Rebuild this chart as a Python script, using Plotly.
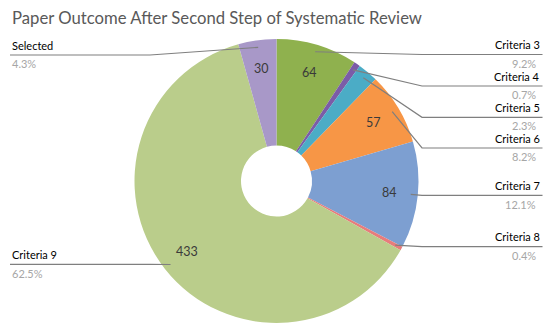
import math
import plotly.graph_objects as go

# ---- data ----
categories = ["Criteria 3", "Criteria 4", "Criteria 5", "Criteria 6",
              "Criteria 7", "Criteria 8", "Criteria 9", "Selected"]
values = [64, 5, 16, 57, 84, 3, 433, 30]
show_value = [True, False, False, True, True, False, True, True]
colors = ["#8fb14e", "#7b5ca7", "#4bacc6", "#f79646",
          "#7d9fd1", "#e77c7c", "#bacd8b", "#a898c8"]

W, H = 550, 331
CX, CY, R = 276.5, 181.0, 142.0

def xp(px):
    return px / W

def yp(py):
    return 1 - py / H

total = sum(values)
pcts = [math.floor(v / total * 1000 + 1e-9) / 10 for v in values]

fig = go.Figure(go.Pie(
    labels=categories, values=values, sort=False, direction="clockwise",
    rotation=0, hole=0.25, marker=dict(colors=colors, line=dict(width=0)),
    textinfo="none", hoverinfo="label+value+percent", showlegend=False,
    domain=dict(x=[xp(CX - R), xp(CX + R)], y=[yp(CY + R), yp(CY - R)]),
))

# layout of outside labels (pixel positions of the label rule)
label_side = ["right", "right", "right", "right", "right", "right", "left", "left"]
label_rule_y = [54.5, 86, 117.3, 148, 195.3, 246.7, 264.3, 55]
RIGHT_ELBOW, RIGHT_END = 422, 542.5
LEFT_ELBOW, LEFT_END = 150, 10

shapes = []
annotations = []
cum = 0
for i, v in enumerate(values):
    mid = (cum + v / 2) / total * 2 * math.pi
    cum += v
    sx = CX + 0.95 * R * math.sin(mid)
    sy = CY - 0.95 * R * math.cos(mid)
    ly = label_rule_y[i]
    if label_side[i] == "right":
        ex, end, anchor = max(RIGHT_ELBOW, sx), RIGHT_END, "right"
    else:
        ex, end, anchor = min(LEFT_ELBOW, sx), LEFT_END, "left"
    pts = [(sx, sy), (ex, ly), (end, ly)]
    path = "M " + " L ".join(f"{xp(a)},{yp(b)}" for a, b in pts)
    shapes.append(dict(type="path", path=path, xref="paper", yref="paper",
                       line=dict(color="#7f7f7f", width=1.2)))
    annotations.append(dict(
        x=xp(end + (-2 if anchor == "right" else 1)), y=yp(ly - 2.5),
        xref="paper", yref="paper", xanchor=anchor, yanchor="bottom",
        text=categories[i], showarrow=False, borderpad=0,
        font=dict(family="Lato", size=11, color="#000000")))
    annotations.append(dict(
        x=xp(end + (-6 if anchor == "right" else 1)), y=yp(ly + 1.2),
        xref="paper", yref="paper", xanchor=anchor, yanchor="top",
        text=f"{pcts[i]:.1f}%", showarrow=False, borderpad=0,
        font=dict(family="Lato", size=11, color="#a6a6a6")))
    if show_value[i]:
        vx = CX + 0.8 * R * math.sin(mid)
        vy = CY - 0.8 * R * math.cos(mid)
        annotations.append(dict(
            x=xp(vx), y=yp(vy), xref="paper", yref="paper",
            xanchor="center", yanchor="middle", text=str(v), showarrow=False,
            font=dict(family="Lato", size=12.5, color="#3a3a3a")))

annotations.append(dict(
    x=xp(10), y=yp(18), xref="paper", yref="paper", xanchor="left",
    yanchor="middle", text="Paper Outcome After Second Step of Systematic Review",
    showarrow=False, font=dict(family="Lato", size=16.7, color="#595959")))

fig.update_layout(
    width=W, height=H, autosize=False,
    margin=dict(l=0, r=0, t=0, b=0),
    paper_bgcolor="white", plot_bgcolor="white",
    shapes=shapes, annotations=annotations,
)

fig.write_html("out.html", config={"displayModeBar": False},
               post_script="document.body.style.margin='0';")
